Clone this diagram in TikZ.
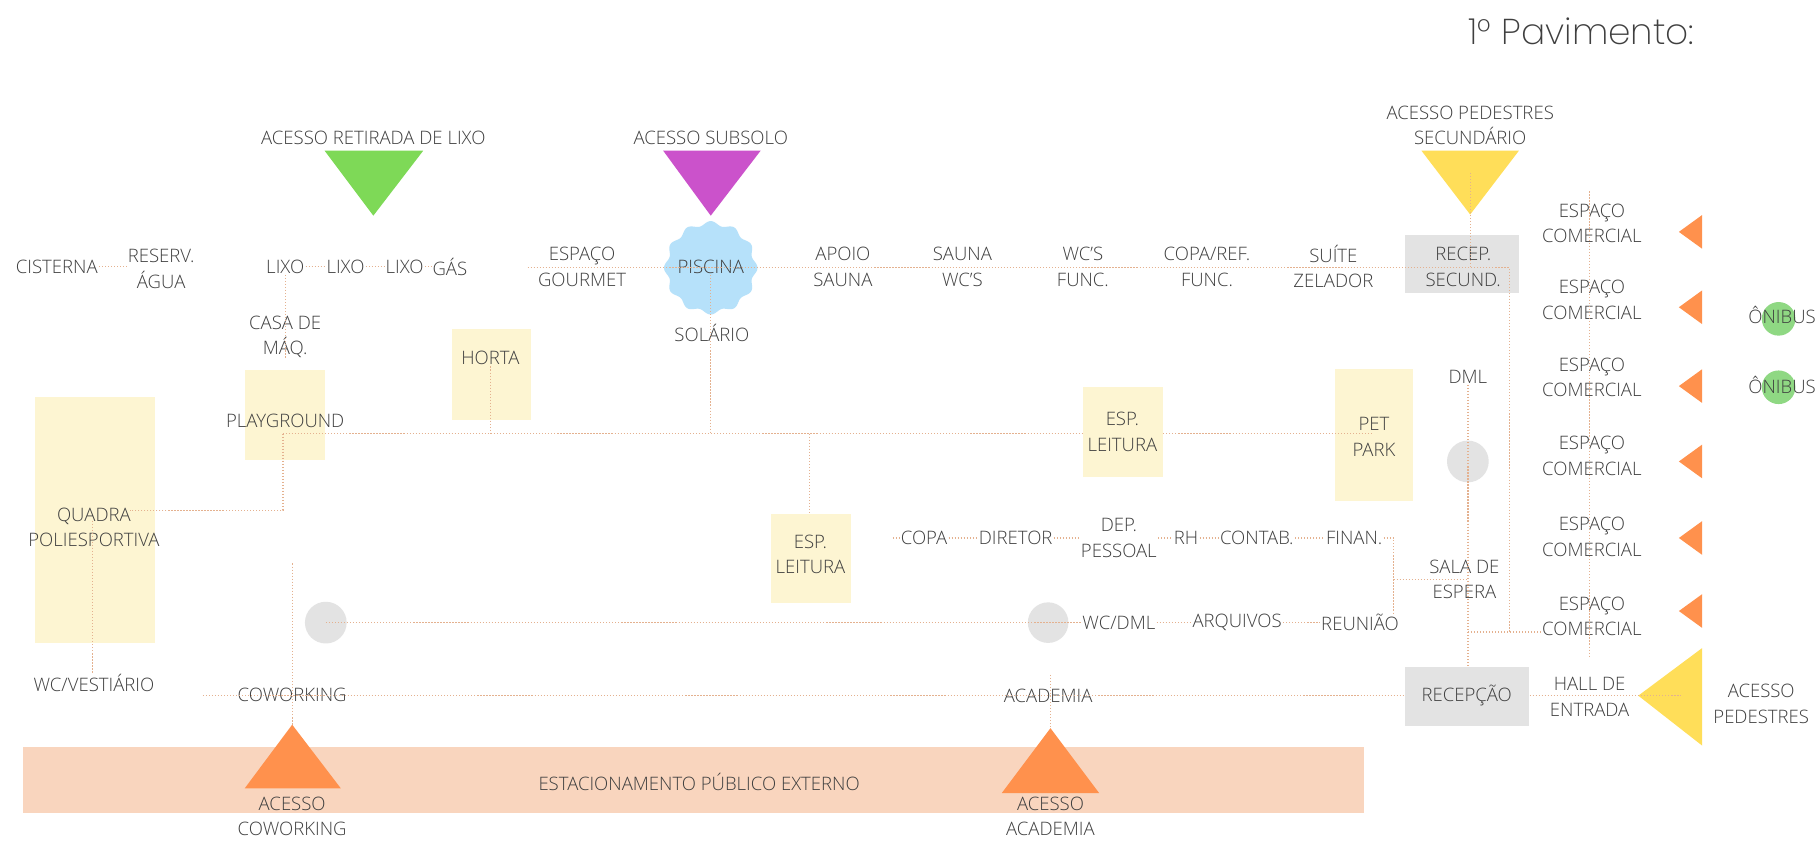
\documentclass[tikz,border=0pt]{standalone}
\usepackage{fontspec}
\setmainfont{Open Sans}[UprightFont={* Light}]
\newfontfamily\titlefont{Poppins}[UprightFont={* ExtraLight}]
\definecolor{txt}{HTML}{3F3F3F}
\definecolor{dotc}{HTML}{E4B18F}
\definecolor{cream}{HTML}{FDF5D2}
\definecolor{grayb}{HTML}{E3E3E3}
\definecolor{pisc}{HTML}{B6E1FA}
\definecolor{band}{HTML}{F9D5BE}
\definecolor{orangeT}{HTML}{FF914D}
\definecolor{yellowT}{HTML}{FFDE59}
\definecolor{greenT}{HTML}{7ED957}
\definecolor{magT}{HTML}{CB52CB}
\definecolor{busg}{HTML}{8FD883}
\tikzset{
  lbl/.style={font=\fontsize{16}{22}\selectfont, text=txt, align=center, inner sep=1pt},
  conn/.style={draw=dotc, line width=1.1pt, dash pattern=on 1.1pt off 1.5pt},
  creambox/.style={fill=cream, draw=none, inner sep=0pt},
  graybox/.style={fill=grayb, draw=none, inner sep=0pt},
  dotnode/.style={circle, fill=grayb, draw=none, inner sep=0pt},
  busnode/.style={circle, fill=busg, draw=none, inner sep=0pt, minimum size=29pt},
}
\begin{document}
\begin{tikzpicture}[x=1pt,y=-1pt]
\useasboundingbox (0,0) rectangle (1568,725);
\fill[white] (0,0) rectangle (1568,725);

% ---------- backgrounds ----------
\node[fill=band, inner sep=0pt, minimum width=1156pt, minimum height=57pt] (band) at (598,672.5) {};
\node[creambox, minimum width=104pt, minimum height=213pt] (quadraB) at (82,448.5) {};
\node[creambox, minimum width=69pt, minimum height=78pt] (playB) at (245.5,358) {};
\node[creambox, minimum width=68pt, minimum height=78pt] (hortaB) at (424,323) {};
\node[creambox, minimum width=69pt, minimum height=77pt] (leit2B) at (699.5,481.5) {};
\node[creambox, minimum width=68pt, minimum height=114pt] (petB) at (1185,375) {};
\node[graybox, minimum width=98pt, minimum height=50pt] (recep2B) at (1261,228) {};
\node[graybox, minimum width=107pt, minimum height=51pt] (recepB) at (1265.5,600.5) {};

\node[dotnode, minimum size=36pt] (c1) at (281,537) {};
\node[dotnode, minimum size=35pt] (c2) at (904,537) {};
\node[dotnode, minimum size=36pt] (c3) at (1266,398) {};
\node[busnode] (bus1) at (1534,275) {};
\node[busnode] (bus2) at (1534,334) {};

\fill[pisc] plot[domain=0:360,samples=241,variable=\t]
  ({613+(38.5+1.8*cos(12*\t))*cos(\t)},{231+(38.5+1.8*cos(12*\t))*sin(\t)}) -- cycle;

% ---------- triangles ----------
\fill[greenT] (280,130) -- (365,130) -- (322,186) -- cycle;
\fill[magT] (572,130) -- (656,130) -- (613,186) -- cycle;
\fill[yellowT] (1226,130) -- (1310,130) -- (1268,185) -- cycle;
\foreach \yy in {200,265,333,398,464,527}
  \fill[orangeT] (1448,\yy) -- (1468,\yy-14.5) -- (1468,\yy+14.5) -- cycle;
\fill[yellowT] (1413,600) -- (1468,559) -- (1468,643) -- cycle;
\fill[orangeT] (211,680) -- (294,680) -- (252,625) -- cycle;
\fill[orangeT] (864,684) -- (948,684) -- (906,628) -- cycle;

% ---------- labels ----------
\node[font=\titlefont\fontsize{31}{36}\selectfont, text=txt, inner sep=0pt] (title) at (1364,27) {1° Pavimento:};

\node[lbl] (tlixo) at (322,119) {ACESSO RETIRADA DE LIXO};
\node[lbl] (tsub) at (613,119) {ACESSO SUBSOLO};
\node[lbl] (tped2) at (1268,108) {ACESSO PEDESTRES\\SECUNDÁRIO};

\node[lbl] (cist) at (49,230) {CISTERNA};
\node[lbl] (reserv) at (139,232) {RESERV.\\ÁGUA};
\node[lbl] (lixo1) at (246,230) {LIXO};
\node[lbl] (lixo2) at (298,230) {LIXO};
\node[lbl] (lixo3) at (349,230) {LIXO};
\node[lbl] (gas) at (388,230) {GÁS};
\node[lbl] (gourmet) at (502,230) {ESPAÇO\\GOURMET};
\node[lbl] (piscina) at (613,230) {PISCINA};
\node[lbl] (apoio) at (727,230) {APOIO\\SAUNA};
\node[lbl] (sauna) at (830,230) {SAUNA\\WC'S};
\node[lbl] (wcf) at (934,230) {WC'S\\FUNC.};
\node[lbl] (copaf) at (1041,230) {COPA/REF.\\FUNC.};
\node[lbl] (suite) at (1150,230) {SUÍTE\\ZELADOR};
\node[lbl] (recep2) at (1262,230) {RECEP.\\SECUND.};

\node[lbl] (casa) at (246,290.5) {CASA DE\\MÁQ.};
\node[lbl] (solario) at (614,287) {SOLÁRIO};
\node[lbl] (horta) at (423,309) {HORTA};
\node[lbl] (play) at (246,363) {PLAYGROUND};
\node[lbl] (quadra) at (81,455) {QUADRA\\POLIESPORTIVA};
\node[lbl] (wcvest) at (81,589) {WC/VESTIÁRIO};
\node[lbl] (leit2) at (699,478) {ESP.\\LEITURA};
\node[lbl] (pet) at (1185,377) {PET\\PARK};
\node[lbl] (dml) at (1266,325) {DML};
\node[lbl] (sala) at (1263,499.5) {SALA DE\\ESPERA};

\node[lbl] (copa) at (797,464) {COPA};
\node[lbl] (diretor) at (876,464) {DIRETOR};
\node[lbl] (dep) at (965,464) {DEP.\\PESSOAL};
\node[lbl] (rh) at (1023,464) {RH};
\node[lbl] (contab) at (1084,464) {CONTAB.};
\node[lbl] (finan) at (1168,464) {FINAN.};

\node[lbl] (wcdml) at (965,537) {WC/DML};
\node[lbl] (arquivos) at (1067,537) {ARQUIVOS};
\node[lbl] (reuniao) at (1173,537) {REUNIÃO};

\node[lbl] (cowork) at (252,599) {COWORKING};
\node[lbl] (academia) at (904,600) {ACADEMIA};
\node[lbl] (recep) at (1265,600) {RECEPÇÃO};
\node[lbl] (hall) at (1371,601) {HALL DE\\ENTRADA};
\node[lbl] (acped) at (1519,607) {ACESSO\\PEDESTRES};

\node[lbl] (estac) at (603,674) {ESTACIONAMENTO PÚBLICO EXTERNO};
\node[lbl] (accow) at (252,704) {ACESSO\\COWORKING};
\node[lbl] (acacad) at (906,704) {ACESSO\\ACADEMIA};

\node[lbl] (com1) at (1373,192.5) {ESPAÇO\\COMERCIAL};
\node[lbl] (com2) at (1373,258.5) {ESPAÇO\\COMERCIAL};
\node[lbl] (com3) at (1373,325.5) {ESPAÇO\\COMERCIAL};
\node[lbl] (com4) at (1373,393) {ESPAÇO\\COMERCIAL};
\node[lbl] (com5) at (1373,463) {ESPAÇO\\COMERCIAL};
\node[lbl] (com6) at (1373,531.5) {ESPAÇO\\COMERCIAL};

\node[lbl] (onib1) at (1537,272) {ÔNIBUS};
\node[lbl] (onib2) at (1537,332) {ÔNIBUS};

% ---------- coordinates ----------
\coordinate (topL) at (455,231);
\coordinate (topR) at (1302,231);
\coordinate (comJ) at (1302,545);
\coordinate (pedA) at (1268,149);
\coordinate (mainL) at (244,374);
\coordinate (mainR) at (1183,374);
\coordinate (playJ) at (244,440);
\coordinate (quadJ) at (112,440);
\coordinate (l2J) at (698,374);
\coordinate (qT) at (80,449);
\coordinate (cwT) at (252,486);
\coordinate (cwA) at (252,625);
\coordinate (acT) at (906,582);
\coordinate (acA) at (906,628);
\coordinate (botL) at (175,600);
\coordinate (pedL) at (1450,600);
\coordinate (salJ) at (1202,500);
\coordinate (finJ) at (1202,464);
\coordinate (reuJ) at (1202,529);
\coordinate (copaL) at (770,464);
\coordinate (cvT) at (1371,165);
\coordinate (cvB) at (1371,567);

% ---------- connectors ----------
\draw[conn] (cist.east) -- (cist.east -| reserv.west);
\draw[conn] (lixo1.east) -- (lixo2.west) (lixo2.east) -- (lixo3.west) (lixo3.east) -- (gas.west);
\draw[conn] (lixo1.south) -- (lixo1.south |- casa.south);
\draw[conn] (topL) -- (topR) -- (comJ);
\draw[conn] (pedA) -- (pedA |- topL);
\draw[conn] (piscina.south) -- (piscina.south |- mainL);
\draw[conn] (mainL) -- (mainR);
\draw[conn] (mainL) -- (playJ) -- (quadJ);
\draw[conn] (horta.south) -- (horta.south |- mainL);
\draw[conn] (l2J) -- (l2J |- leit2B.north);
\draw[conn] (qT) -- (qT |- wcvest.north);
\draw[conn] (cwT) -- (cwA);
\draw[conn] (botL) -- (recepB.west |- botL);
\draw[conn] (acT) -- (acA);
\draw[conn] (recepB.east |- pedL) -- (pedL);
\draw[conn] (dml.south) -- (dml.south |- recepB.north);
\draw[conn] (salJ) -- (salJ -| dml);
\draw[conn] (finan.east) -- (finJ) -- (reuJ);
\draw[conn] (copaL) -- (copa.west) (copa.east) -- (diretor.west) (diretor.east) -- (dep.west |- diretor.east)
  (dep.east |- rh.west) -- (rh.west) (rh.east) -- (contab.west) (contab.east) -- (finan.west);
\draw[conn] (c1.center) -- (wcdml.west) (wcdml.east) -- (arquivos.west) (arquivos.east) -- (reuniao.west);
\draw[conn] (cvT) -- (cvB);
\draw[conn] (dml |- comJ) -- (com6.west |- comJ);

% upper reading box covers the main line
\node[creambox, minimum width=69pt, minimum height=77pt] (leit1B) at (968.5,372.5) {};
\node[lbl] (leit1) at (968,372.5) {ESP.\\LEITURA};
\end{tikzpicture}
\end{document}
